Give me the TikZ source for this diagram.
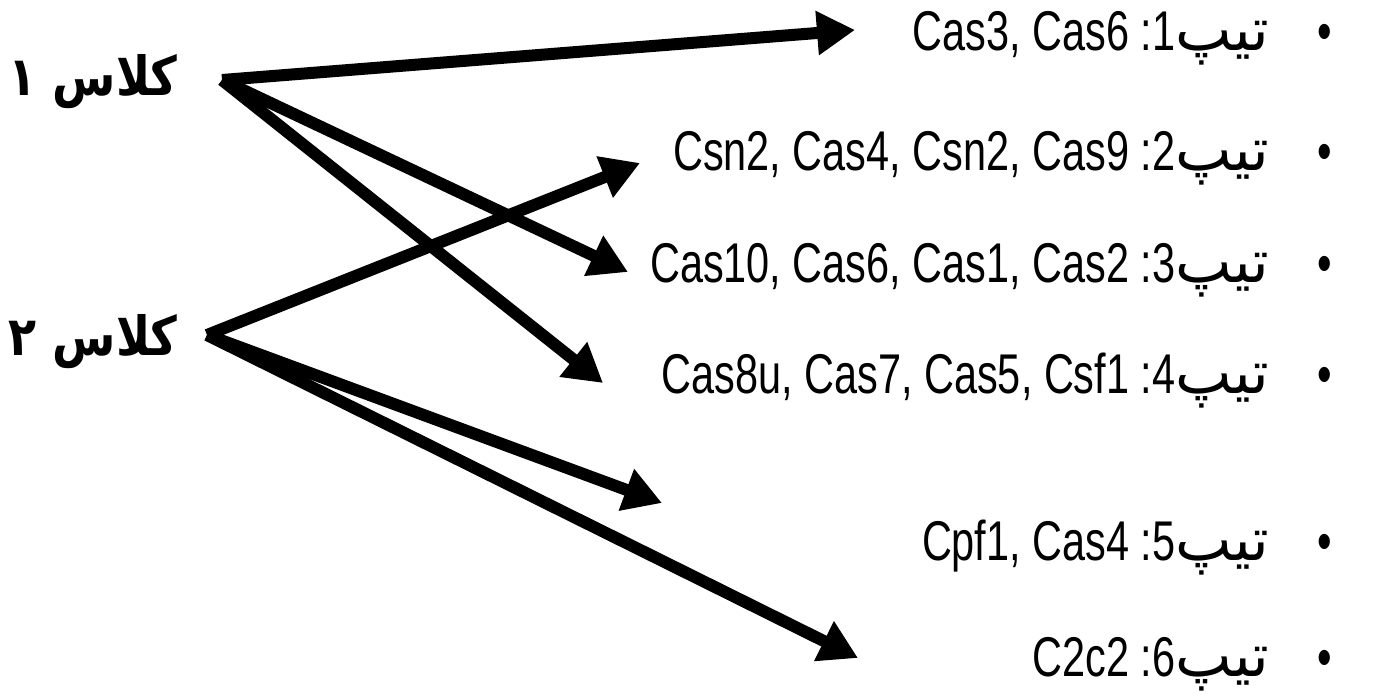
\documentclass[tikz,border=0pt]{standalone}
\usepackage{fontspec}
\setmainfont{Liberation Sans}
\newfontfamily\latinfont[FakeStretch=0.74]{Liberation Sans}
\newfontfamily\persianfont[Script=Arabic]{DejaVu Sans}
\newfontfamily\persianbold[Script=Arabic,FakeStretch=0.85]{DejaVu Sans Bold}
\TeXXeTstate=1
\usetikzlibrary{arrows.meta}

% one list entry, set left to right as it appears: names, number, word, bullet
\newcommand\tipitem[2]{{\latinfont #1 :#2}{\persianfont\fontsize{30pt}{34pt}\selectfont\beginR تیپ\endR}\hspace{24pt}{\latinfont •}}

\tikzset{
  item/.style={inner sep=0pt, font=\fontsize{28pt}{32pt}\selectfont, anchor=base east},
  cls/.style={inner sep=0pt, font=\persianbold\fontsize{27pt}{32pt}\selectfont, anchor=base east},
  link/.style={line width=6pt, -{Triangle[length=19pt,width=21pt]}},
}

\begin{document}
\begin{tikzpicture}[x=0.5pt,y=-0.5pt]
\useasboundingbox[fill=white] (0,0) rectangle (1386,697);

% the six types
\node[item] (t1) at (1332,50)  {\tipitem{Cas3, Cas6}{1}};
\node[item] (t2) at (1332,170) {\tipitem{Csn2, Cas4, Csn2, Cas9}{2}};
\node[item] (t3) at (1332,282) {\tipitem{Cas10, Cas6, Cas1, Cas2}{3}};
\node[item] (t4) at (1332,393) {\tipitem{Cas8u, Cas7, Cas5, Csf1}{4}};
\node[item] (t5) at (1332,560) {\tipitem{Cpf1, Cas4}{5}};
\node[item] (t6) at (1332,676) {\tipitem{C2c2}{6}};

% the two classes
\node[cls] (k1) at (178,95)  {\beginR کلاس ۱\endR};
\node[cls] (k2) at (178,355) {\beginR کلاس ۲\endR};

% where the arrows leave each class and where they end
\coordinate (s1) at (222,80);
\coordinate (s2) at (207,335);
\coordinate (e11) at (855,30);
\coordinate (e13) at (628,272);
\coordinate (e14) at (603,383);
\coordinate (e22) at (640,163);
\coordinate (e25) at (662,503);
\coordinate (e26) at (858,658);

\draw[link] (s1) -- (e11);
\draw[link] (s1) -- (e13);
\draw[link] (s1) -- (e14);
\draw[link] (s2) -- (e22);
\draw[link] (s2) -- (e25);
\draw[link] (s2) -- (e26);
\end{tikzpicture}
\end{document}
